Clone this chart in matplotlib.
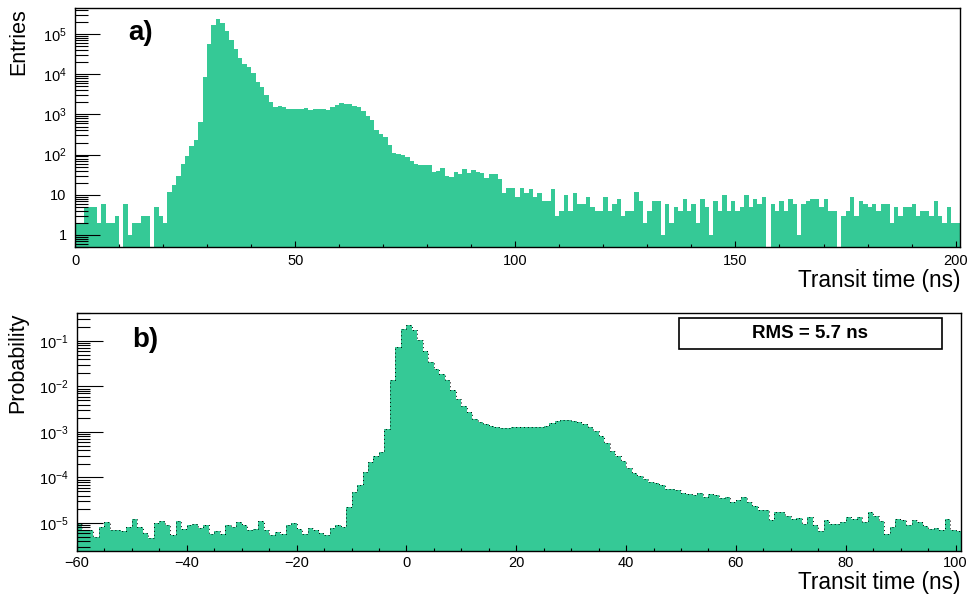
import numpy as np
import matplotlib
matplotlib.use('Agg')
import matplotlib.pyplot as plt
from matplotlib.ticker import LogLocator, NullFormatter, MultipleLocator
from matplotlib.patches import Rectangle

plt.rcParams['font.family'] = ['Liberation Sans', 'DejaVu Sans']
plt.rcParams['mathtext.fontset'] = 'custom'
plt.rcParams['mathtext.rm'] = 'Liberation Sans'
plt.rcParams['mathtext.it'] = 'Liberation Sans:italic'
plt.rcParams['mathtext.bf'] = 'Liberation Sans:bold'

# ---------------- data ----------------
# panel a): entries per 1 ns bin, starting at 0 ns
bin_start_a = 0
bin_width_a = 1
counts_a = [
    2, 2, 5, 5, 5, 2, 6, 2, 2, 3,
    0, 6, 1, 2, 2, 3, 3, 0, 5, 3,
    2, 12, 18, 30, 58, 91, 161, 237, 660, 8600,
    58000, 170000, 237000, 188000, 120000, 71000, 42000, 25000, 18500, 15300,
    11000, 6400, 4800, 3000, 2100, 1550, 1600, 1550, 1400, 1400,
    1400, 1400, 1450, 1330, 1400, 1400, 1370, 1300, 1500, 1680,
    1880, 1850, 1820, 1620, 1500, 1200, 910, 710, 420, 330,
    270, 178, 110, 104, 96, 86, 71, 58, 56, 54,
    54, 38, 40, 46, 29, 27, 37, 33, 44, 35,
    41, 38, 35, 26, 33, 33, 25, 11, 15, 15,
    9, 15, 11, 14, 9, 11, 7, 7, 14, 3,
    4, 10, 4, 11, 6, 6, 9, 5, 4, 4,
    9, 4, 6, 8, 3, 4, 4, 12, 7, 2,
    4, 7, 7, 1, 6, 2, 5, 4, 8, 4,
    6, 2, 8, 5, 1, 7, 4, 10, 4, 7,
    4, 5, 10, 5, 8, 6, 9, 0, 6, 4,
    7, 4, 8, 6, 1, 6, 7, 8, 8, 5,
    8, 4, 4, 0, 3, 4, 9, 3, 7, 6,
    5, 6, 4, 6, 6, 2, 5, 3, 5, 5,
    6, 3, 4, 4, 3, 7, 3, 2, 5, 2,
    2,
]

# panel b): probability per 1 ns bin, starting at -60 ns
bin_start_b = -60
bin_width_b = 1
prob_b = [
    9.4e-6, 7.1e-6, 7.1e-6, 4.9e-6, 8.2e-6, 1.05e-5, 6.9e-6, 7.1e-6, 6.6e-6, 8.2e-6,
    1.2e-5, 8.2e-6, 6.1e-6, 4.7e-6, 1.0e-5, 1.09e-5, 8.9e-6, 5.5e-6, 1.1e-5, 7.3e-6,
    8.9e-6, 9.4e-6, 7.9e-6, 8.9e-6, 5.8e-6, 6.7e-6, 5.8e-6, 8.9e-6, 8.2e-6, 1.05e-5,
    8.9e-6, 7.1e-6, 7.5e-6, 1.1e-5, 6.9e-6, 5.4e-6, 6.3e-6, 5.8e-6, 8.9e-6, 1.0e-5,
    7.3e-6, 5.8e-6, 7.8e-6, 7.1e-6, 6.0e-6, 5.4e-6, 7.8e-6, 9.2e-6, 8.2e-6, 2.25e-5,
    4.8e-5, 6.7e-5, 1.32e-4, 2.19e-4, 2.92e-4, 3.63e-4, 1.18e-3, 1.37e-2, 7.4e-2, 0.187,
    0.221, 0.177, 0.103, 0.060, 0.0345, 0.0247, 0.0185, 0.0137, 0.0085, 0.0054,
    0.00367, 0.00275, 0.00196, 1.66e-3, 1.52e-3, 1.38e-3, 1.29e-3, 1.22e-3, 1.25e-3, 1.27e-3,
    1.29e-3, 1.29e-3, 1.29e-3, 1.29e-3, 1.31e-3, 1.38e-3, 1.58e-3, 1.75e-3, 1.80e-3, 1.80e-3,
    1.75e-3, 1.63e-3, 1.47e-3, 1.29e-3, 1.05e-3, 8.0e-4, 5.7e-4, 3.82e-4, 3.02e-4, 2.27e-4,
    1.64e-4, 1.26e-4, 1.06e-4, 9.3e-5, 8.1e-5, 7.6e-5, 6.7e-5, 5.7e-5, 5.5e-5, 5.4e-5,
    4.56e-5, 4.41e-5, 4.06e-5, 4.56e-5, 3.73e-5, 4.26e-5, 4.06e-5, 3.6e-5, 3.73e-5, 2.84e-5,
    3.26e-5, 3.73e-5, 2.9e-5, 2.32e-5, 1.96e-5, 1.96e-5, 1.15e-5, 1.75e-5, 1.75e-5, 1.43e-5,
    1.25e-5, 1.31e-5, 9.4e-6, 1.35e-5, 8.9e-6, 6.6e-6, 1.15e-5, 9.7e-6, 9.7e-6, 1.05e-5,
    1.35e-5, 1.25e-5, 1.35e-5, 1.05e-5, 1.75e-5, 1.4e-5, 1.1e-5, 5.6e-6, 8.2e-6, 1.25e-5,
    1.18e-5, 8.9e-6, 1.15e-5, 1.05e-5, 8.45e-6, 7.5e-6, 7.9e-6, 7.1e-6, 1.25e-5, 7.1e-6,
    6.6e-6,
]

yticks_a = [1, 10, 1e2, 1e3, 1e4, 1e5]
yticklabels_a = ['1', '10', r'$10^{2}$', r'$10^{3}$', r'$10^{4}$', r'$10^{5}$']
yticks_b = [1e-5, 1e-4, 1e-3, 1e-2, 1e-1]
yticklabels_b = [r'$10^{-5}$', r'$10^{-4}$', r'$10^{-3}$', r'$10^{-2}$', r'$10^{-1}$']

xlabel = 'Transit time (ns)'
ylabel_a = 'Entries'
ylabel_b = 'Probability'
panel_a = 'a)'
panel_b = 'b)'
rms_text = 'RMS = 5.7 ns'

# ---------------- style ----------------
GREEN = '#35C996'
W, H = 969, 596
fig = plt.figure(figsize=(W / 100, H / 100), dpi=100)

ax1 = fig.add_axes([75 / W, 1 - 247 / H, 885 / W, 239 / H])
ax2 = fig.add_axes([77 / W, 1 - 551 / H, 884 / W, 238 / H])

def style_axes(ax, ymaj_len, ymin_len):
    for s in ax.spines.values():
        s.set_linewidth(1.0)
        s.set_color('black')
    ax.tick_params(axis='y', which='major', direction='in', length=ymaj_len, width=0.8,
                   labelsize=10.5, pad=6, right=False)
    ax.tick_params(axis='y', which='minor', direction='in', length=ymin_len, width=0.8, right=False)
    ax.tick_params(axis='x', which='major', direction='in', length=4, width=0.8,
                   labelsize=10.5, pad=5, top=False)
    ax.tick_params(axis='x', which='minor', direction='in', length=2.2, width=0.8, top=False)

# ---- panel a ----
ca = np.asarray(counts_a, dtype=float)
edges_a = bin_start_a + bin_width_a * np.arange(len(ca) + 1)
base_a = 1e-3
ax1.stairs(np.where(ca > 0, ca, base_a), edges_a, baseline=base_a, fill=True,
           color=GREEN, linewidth=0)
ax1.set_yscale('log')
ax1.set_xlim(edges_a[0], edges_a[-1])
ax1.set_ylim(0.5, 4.5e5)
ax1.set_yticks(yticks_a, labels=yticklabels_a)
ax1.yaxis.set_minor_locator(LogLocator(base=10, subs=np.arange(2, 10), numticks=30))
ax1.yaxis.set_minor_formatter(NullFormatter())
ax1.xaxis.set_major_locator(MultipleLocator(50))
ax1.xaxis.set_minor_locator(MultipleLocator(10))
style_axes(ax1, 18, 9.5)
ax1.text(-0.064, 1.0, ylabel_a, transform=ax1.transAxes, rotation=90,
         ha='center', va='top', fontsize=15.5)
ax1.text(1.0, -0.094, xlabel, transform=ax1.transAxes, ha='right', va='top', fontsize=16.3)
ax1.text(0.06, 0.866, panel_a, transform=ax1.transAxes, ha='left', va='baseline',
         fontsize=20, fontweight='bold')

# ---- panel b ----
pb = np.asarray(prob_b, dtype=float)
edges_b = bin_start_b + bin_width_b * np.arange(len(pb) + 1)
base_b = 1e-9
ax2.stairs(pb, edges_b, baseline=base_b, fill=True, color=GREEN, linewidth=0)
ax2.stairs(pb, edges_b, baseline=None, color='black', linewidth=0.7,
           linestyle=(0, (1, 3)))
ax2.set_yscale('log')
ax2.set_xlim(edges_b[0], edges_b[-1])
ax2.set_ylim(2.43e-6, 0.41)
ax2.set_yticks(yticks_b, labels=yticklabels_b)
ax2.yaxis.set_minor_locator(LogLocator(base=10, subs=np.arange(2, 10), numticks=30))
ax2.yaxis.set_minor_formatter(NullFormatter())
ax2.xaxis.set_major_locator(MultipleLocator(20))
ax2.xaxis.set_minor_locator(MultipleLocator(5))
style_axes(ax2, 19, 9.5)
ax2.tick_params(axis='x', which='major', pad=3.5)
ax2.text(-0.067, 1.0, ylabel_b, transform=ax2.transAxes, rotation=90,
         ha='center', va='top', fontsize=15.5)
ax2.text(1.0, -0.085, xlabel, transform=ax2.transAxes, ha='right', va='top', fontsize=16.3)
ax2.text(0.063, 0.856, panel_b, transform=ax2.transAxes, ha='left', va='baseline',
         fontsize=20, fontweight='bold')

# RMS box
ax2.add_patch(Rectangle((0.681, 0.8475), 0.2975, 0.1315, transform=ax2.transAxes,
                        facecolor='white', edgecolor='black', linewidth=1.2, zorder=5))
ax2.text(0.681 + 0.2975 / 2, 0.8475 + 0.1315 / 2, rms_text, transform=ax2.transAxes,
         ha='center', va='center', fontsize=13.5, fontweight='bold', zorder=6)

fig.savefig('out.png', dpi=100)
